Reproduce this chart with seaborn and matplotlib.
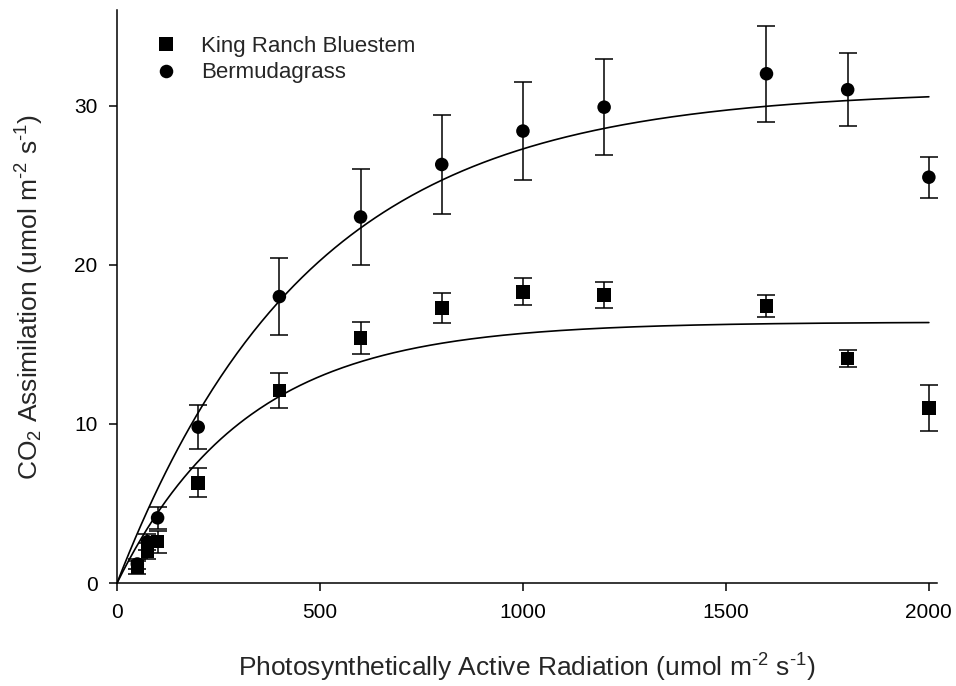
import numpy as np
import pandas as pd
import matplotlib
matplotlib.use("Agg")
import matplotlib.pyplot as plt
import seaborn as sns

# 光合成有効放射 (PAR)
par = [50, 75, 100, 200, 400, 600, 800, 1000, 1200, 1600, 1800, 2000]

# King Ranch Bluestem
krb_mean = [1.0, 2.0, 2.6, 6.3, 12.1, 15.4, 17.3, 18.3, 18.1, 17.4, 14.1, 11.0]
krb_err = [0.4, 0.5, 0.7, 0.9, 1.1, 1.0, 0.95, 0.85, 0.8, 0.7, 0.55, 1.45]

# Bermudagrass
bg_mean = [1.2, 2.6, 4.1, 9.8, 18.0, 23.0, 26.3, 28.4, 29.9, 32.0, 31.0, 25.5]
bg_err = [0.3, 0.5, 0.7, 1.4, 2.4, 3.0, 3.1, 3.1, 3.0, 3.0, 2.3, 1.3]

# 指数関数フィット y = a * (1 - exp(-b x)) のパラメータ
krb_fit = (16.4, 0.00314)
bg_fit = (31.0, 0.00212)

names = ["King Ranch Bluestem", "Bermudagrass"]

sns.set_style("ticks")
plt.rcParams["font.family"] = ["Liberation Sans", "DejaVu Sans"]
plt.rcParams["mathtext.default"] = "regular"

data = pd.DataFrame({
    "par": par * 2,
    "co2": krb_mean + bg_mean,
    "err": krb_err + bg_err,
    "species": [names[0]] * len(par) + [names[1]] * len(par),
})

fig = plt.figure(figsize=(9.56, 6.86), dpi=100)
ax = fig.add_axes([0.1224, 0.150, 0.8577, 0.8353])

# エラーバー
for name in names:
    sub = data[data["species"] == name]
    ax.errorbar(sub["par"], sub["co2"], yerr=sub["err"], fmt="none",
                ecolor="black", elinewidth=1.1, capsize=6.2, capthick=1.1, zorder=2)

# フィット曲線
xs = np.linspace(0, 2000, 400)
for a, b in [krb_fit, bg_fit]:
    fit = pd.DataFrame({"x": xs, "y": a * (1 - np.exp(-b * xs))})
    sns.lineplot(x="x", y="y", data=fit, color="black", linewidth=1.2, ax=ax, zorder=3)

# 測定点
sns.scatterplot(x="par", y="co2", data=data, style="species", hue="species",
                markers={names[0]: "s", names[1]: "o"},
                palette={names[0]: "black", names[1]: "black"},
                s=95, edgecolor="black", linewidth=0, ax=ax, zorder=4)

ax.set_xlim(0, 2020)
ax.set_ylim(0, 36)
ax.set_xticks([0, 500, 1000, 1500, 2000])
ax.set_yticks([0, 10, 20, 30])
sns.despine(ax=ax)
for s in ["left", "bottom"]:
    ax.spines[s].set_linewidth(1.1)
    ax.spines[s].set_color("black")
ax.tick_params(direction="out", length=6, width=1.1, labelsize=15, colors="black", pad=8)

hy = "\u2010"
ax.set_xlabel(f"Photosynthetically Active Radiation (umol m$^{{{hy}2}}$ s$^{{{hy}1}}$)",
              fontsize=19, labelpad=22)
ax.set_ylabel(f"CO$_2$ Assimilation (umol m$^{{{hy}2}}$ s$^{{{hy}1}}$)", fontsize=19, labelpad=20)

ax.legend(loc="upper left", bbox_to_anchor=(0.008, 0.99), frameon=False, fontsize=16,
          handletextpad=0.6, labelspacing=0.25, markerscale=1.0, title=None)

plt.savefig("out.png", dpi=100)
